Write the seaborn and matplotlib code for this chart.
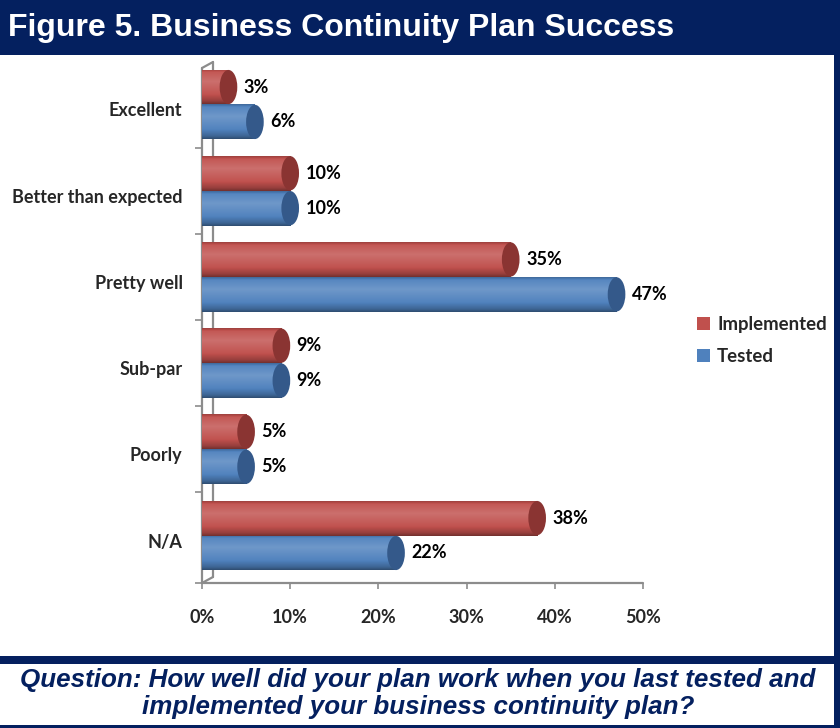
import numpy as np
import pandas as pd
import seaborn as sns
import matplotlib
matplotlib.use("Agg")
import matplotlib.pyplot as plt
from matplotlib.patches import Rectangle, Ellipse, Patch
from matplotlib.lines import Line2D
from matplotlib import transforms
from matplotlib.colors import to_rgb

# ---- data -------------------------------------------------------------
categories = ["Excellent", "Better than expected", "Pretty well",
              "Sub-par", "Poorly", "N/A"]
implemented = [3, 10, 35, 9, 5, 38]
tested = [6, 10, 47, 9, 5, 22]
series_names = ["Implemented", "Tested"]
x_ticks = [0, 10, 20, 30, 40, 50]

title_text = "Figure 5. Business Continuity Plan Success"
question_lines = ["Question: How well did your plan work when you last tested and",
                  "implemented your business continuity plan?"]

# ---- style ------------------------------------------------------------
NAVY = "#04205F"
GRID_GRAY = "#8C8C8C"
colors = {"Implemented": "#C0504D", "Tested": "#4F81BD"}
cap_colors = {"Implemented": "#8A3432", "Tested": "#34598A"}

sns.set_theme(style="white")
plt.rcParams["font.family"] = ["Lato", "DejaVu Sans"]
LABEL_FONT = dict(family=["Lato", "DejaVu Sans"], weight="bold", size=13)

df = pd.DataFrame({
    "category": categories * 2,
    "value": implemented + tested,
    "series": [series_names[0]] * len(categories) + [series_names[1]] * len(categories),
})

fig = plt.figure(figsize=(8.4, 7.28), dpi=100)
W, H = 840, 728
ax = fig.add_axes([202 / W, 1 - 583 / H, (643 - 202) / W, (583 - 62) / H])

sns.barplot(data=df, y="category", x="value", hue="series", orient="h",
            order=categories, hue_order=series_names,
            palette=colors, width=0.81, gap=0, legend=False, ax=ax,
            linewidth=0, saturation=1)

ax.set_xlim(0, 50)
ax.set_ylim(5.551, -0.493)


def shade(base, t):
    """Cylinder-like lightness profile across the bar (t: 0 top, 1 bottom)."""
    c = np.array(to_rgb(base))
    k = np.interp(t, [0.0, 0.08, 0.35, 0.72, 0.92, 1.0],
                  [0.82, 1.05, 1.20, 1.02, 0.78, 0.60])
    out = np.where(k[:, None] > 1, c + (1 - c) * (k[:, None] - 1) * 0.9,
                   c * k[:, None])
    return np.clip(out, 0, 1)


bars = list(ax.patches)
n = len(categories)
for i, bar in enumerate(bars):
    name = series_names[0] if i < n else series_names[1]
    x0, y0 = bar.get_x(), bar.get_y()
    w, h = bar.get_width(), bar.get_height()
    t = np.linspace(0, 1, 64)
    img = shade(colors[name], t)[:, None, :]
    im = ax.imshow(img, extent=(x0, x0 + w, y0 + h, y0), origin="upper",
                   aspect="auto", interpolation="bilinear", zorder=2)
    im.set_clip_path(bar)
    cap = Ellipse((x0 + w, y0 + h / 2), width=2.0, height=h * 0.98,
                  facecolor=cap_colors[name], edgecolor="none", zorder=3)
    ax.add_patch(cap)
    ax.annotate(f"{w:.0f}%", xy=(x0 + w, y0 + h / 2), xytext=(11, 0),
                textcoords="offset points", va="center", ha="left",
                color="black", zorder=4, **LABEL_FONT)

ax.set_xlim(0, 50)
ax.set_ylim(5.551, -0.493)

# ---- axes decoration (3D-style frame) --------------------------------
for s in ax.spines.values():
    s.set_visible(False)

to_ax = lambda xp, yp: ((xp - 202) / (643 - 202), (583 - yp) / (583 - 62))
frame_lines = [
    [(202, 68), (202, 583)],      # front wall edge
    [(213, 62), (213, 577)],      # back wall edge
    [(202, 68), (213, 62)],       # top corner
    [(202, 583), (213, 577)],     # floor corner
    [(202, 583), (643, 583)],     # floor front edge
]
for seg in frame_lines:
    (xa, ya), (xb, yb) = to_ax(*seg[0]), to_ax(*seg[1])
    ax.add_line(Line2D([xa, xb], [ya, yb], transform=ax.transAxes,
                       color=GRID_GRAY, lw=1.6, clip_on=False, zorder=1.5))

ax.set_xticks(x_ticks)
ax.set_xticklabels([f"{v}%" for v in x_ticks], **LABEL_FONT)
ax.tick_params(axis="x", bottom=True, length=4, width=1.2, color=GRID_GRAY,
               pad=15, direction="out")

ax.set_yticks(range(n))
ax.set_yticklabels(categories, **LABEL_FONT)
ax.tick_params(axis="y", left=False, length=0, pad=14)
ax.set_yticks([0.5, 1.5, 2.5, 3.5, 4.5, 5.551], minor=True)
ax.tick_params(axis="y", which="minor", left=True, length=5, width=1.2,
               color=GRID_GRAY, direction="out")
shift = transforms.ScaledTranslation(0, -5 / 100, fig.dpi_scale_trans)
for lbl in ax.get_yticklabels():
    lbl.set_transform(lbl.get_transform() + shift)
ax.set_xlabel("")
ax.set_ylabel("")

# ---- legend ----------------------------------------------------------
handles = [Patch(facecolor=colors[s], edgecolor="none", label=s) for s in series_names]
leg = fig.legend(handles=handles, loc="upper left",
                 bbox_to_anchor=(697 / W, 1 - 316 / H), frameon=False,
                 handlelength=0.68, handleheight=0.68, handletextpad=0.4,
                 labelspacing=0.8, borderpad=0, borderaxespad=0,
                 prop=dict(family=["Lato", "DejaVu Sans"], weight="bold", size=13.4))

# ---- title bar, borders and question ---------------------------------
fig.patches.append(Rectangle((0, 1 - 55 / H), 1, 55 / H, transform=fig.transFigure,
                             facecolor=NAVY, edgecolor="none", zorder=0))
fig.patches.append(Rectangle((834 / W, 0), 6 / W, 1, transform=fig.transFigure,
                             facecolor=NAVY, edgecolor="none", zorder=0))
fig.patches.append(Rectangle((0, 1 - 664 / H), 1, 8 / H, transform=fig.transFigure,
                             facecolor=NAVY, edgecolor="none", zorder=0))
fig.patches.append(Rectangle((0, 0), 1, 3 / H, transform=fig.transFigure,
                             facecolor=NAVY, edgecolor="none", zorder=0))

fig.text(8 / W, 1 - 28 / H, title_text, color="white", ha="left", va="center",
         family=["Liberation Sans", "DejaVu Sans"], weight="bold", size=23)
for line, base_y in zip(question_lines, [687, 714]):
    fig.text(418 / W, 1 - base_y / H, line, color=NAVY, ha="center", va="baseline",
             family=["Liberation Sans", "DejaVu Sans"], weight="bold",
             style="italic", size=18.7)

fig.savefig("out.png", dpi=100)
